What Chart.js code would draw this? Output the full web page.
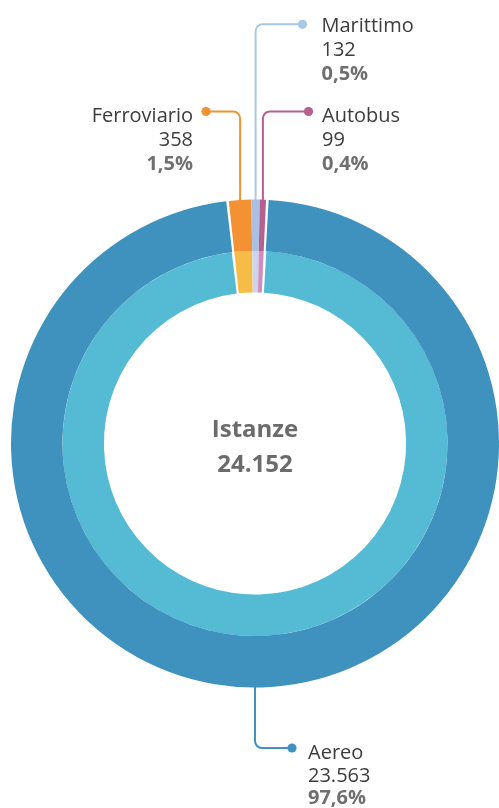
<!DOCTYPE html>
<html>
<head>
<meta charset="utf-8">
<script src="https://cdn.jsdelivr.net/npm/chart.js@4/dist/chart.umd.min.js"></script>
<style>
  html, body { margin: 0; padding: 0; background: #ffffff; }
  #wrap { width: 499px; height: 808px; }
</style>
</head>
<body>
<div id="wrap"><canvas id="c" width="499" height="808"></canvas></div>
<script>
// ---- data ----
const categories = ['Aereo', 'Ferroviario', 'Marittimo', 'Autobus'];
const istanze = [23563, 358, 132, 99];
const centerTitle = 'Istanze';

// ---- styles ----
const outerColors = ['#3f92bd', '#f29233', '#a9c0e2', '#b5608f'];
const innerColors = ['#55bbd5', '#f7bb48', '#cbd6ee', '#d28cbf'];
const leaderColors = ['#3f92bd', '#f29233', '#a6c9e6', '#b5608f'];

// label layout (positions of label blocks, not marks)
const labelLayout = [
  { anchor: 'bottom', elbowY: 748, dotX: 292, textX: 308, textY: 759, align: 'left', lh: 22.5 },
  { anchor: 'mid', elbowY: 111.5, dotX: 206, textX: 193, textY: 122, align: 'right', lh: 24 },
  { anchor: 'mid', elbowY: 24.3, dotX: 302.5, textX: 321.5, textY: 31.7, align: 'left', lh: 24 },
  { anchor: 'mid', elbowY: 111.5, dotX: 308.5, textX: 322, textY: 122, align: 'left', lh: 24 }
];

const FONT = '"Open Sans", "Noto Sans", sans-serif';
const fmtInt = n => String(n).replace(/\B(?=(\d{3})+(?!\d))/g, '.');
const total = istanze.reduce((a, b) => a + b, 0);
const fmtPct = n => (n / total * 100).toFixed(1).replace('.', ',') + '%';

const labelsPlugin = {
  id: 'leaderLabels',
  afterDatasetsDraw(chart) {
    const ctx = chart.ctx;
    const meta = chart.getDatasetMeta(0);
    meta.data.forEach((arc, i) => {
      const L = labelLayout[i];
      const p = arc.getProps(['x', 'y', 'startAngle', 'endAngle', 'outerRadius'], true);
      let ang = (p.startAngle + p.endAngle) / 2;
      if (L.anchor === 'bottom') ang = Math.PI / 2;
      const R = p.outerRadius;
      const ax = p.x + Math.cos(ang) * R;
      const ay = p.y + Math.sin(ang) * R;
      ctx.save();
      ctx.strokeStyle = leaderColors[i];
      ctx.fillStyle = leaderColors[i];
      ctx.lineWidth = 2;
      ctx.beginPath();
      ctx.moveTo(ax, ay);
      ctx.arcTo(ax, L.elbowY, L.dotX, L.elbowY, 7);
      ctx.lineTo(L.dotX, L.elbowY);
      ctx.stroke();
      ctx.beginPath();
      ctx.arc(L.dotX, L.elbowY, 4.6, 0, Math.PI * 2);
      ctx.fill();
      ctx.textAlign = L.align;
      ctx.textBaseline = 'alphabetic';
      ctx.fillStyle = '#3c3c3c';
      ctx.font = '400 20px ' + FONT;
      ctx.fillText(categories[i], L.textX, L.textY);
      ctx.fillText(fmtInt(istanze[i]), L.textX, L.textY + L.lh);
      ctx.fillStyle = '#6f6f6f';
      ctx.font = '700 20px ' + FONT;
      ctx.fillText(fmtPct(istanze[i]), L.textX, L.textY + 2 * L.lh);
      ctx.restore();
    });
    // center text
    const a0 = meta.data[0];
    ctx.save();
    ctx.textAlign = 'center';
    ctx.textBaseline = 'alphabetic';
    ctx.fillStyle = '#6b6b6b';
    ctx.font = '700 24px ' + FONT;
    ctx.fillText(centerTitle, a0.x, 436.7);
    ctx.fillText(fmtInt(total), a0.x, 471.7);
    ctx.restore();
  }
};

new Chart(document.getElementById('c'), {
  type: 'doughnut',
  data: {
    labels: categories,
    datasets: [
      { data: istanze, backgroundColor: outerColors, borderWidth: 0, spacing: 1.5, weight: 51.5 },
      { data: istanze, backgroundColor: innerColors, borderWidth: 0, spacing: 1.5, weight: 41.5 }
    ]
  },
  options: {
    responsive: false,
    animation: false,
    devicePixelRatio: 1,
    rotation: 2.6,
    cutout: '61.8%',
    layout: { padding: { left: 11, right: 0, top: 199, bottom: 120 } },
    plugins: { legend: { display: false }, tooltip: { enabled: false } }
  },
  plugins: [labelsPlugin]
});
</script>
</body>
</html>
